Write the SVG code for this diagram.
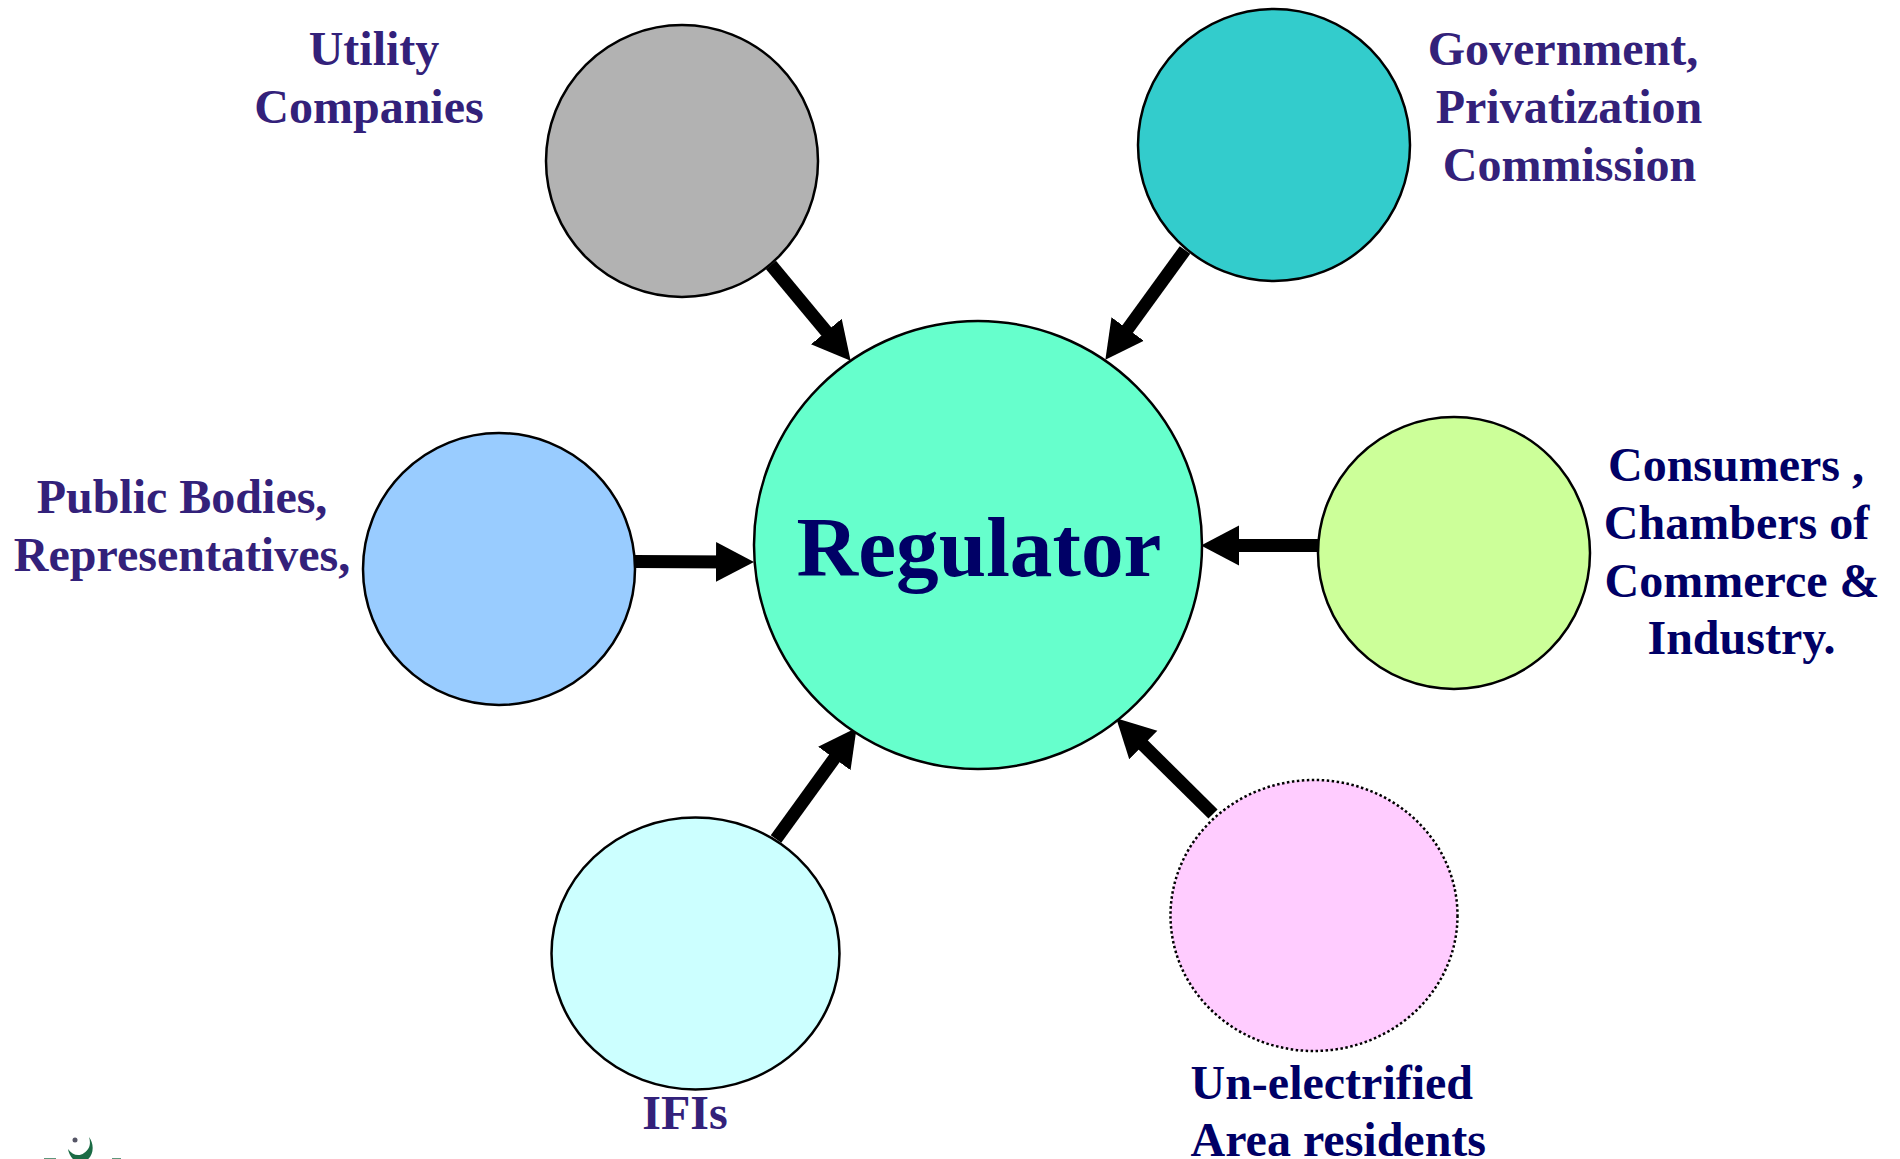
<svg xmlns="http://www.w3.org/2000/svg" width="1900" height="1159" viewBox="0 0 1900 1159">
<style>
.n{stroke:#000;stroke-width:2.500}
.t{font-family:"Liberation Serif","Times New Roman",serif;font-weight:bold;font-size:48px;text-anchor:middle}
.p{fill:#33217a}
.d{fill:#000066}
.a{stroke:#000;stroke-width:13;fill:none;marker-end:url(#ah)}
.g{fill:#1b6b45}
</style>
<defs><marker id="ah" markerUnits="userSpaceOnUse" markerWidth="44" markerHeight="44" refX="17" refY="22" orient="auto"><path d="M0 2L38 22L0 42z" fill="#000"/></marker></defs>
<rect width="1900" height="1159" fill="#fff"/>
<g id="connectors">
<path class="a" d="M771 265L837.200 344.600"/>
<path class="a" d="M1185 250L1117.700 342.800"/>
<path class="a" d="M635 561.500L733 562"/>
<path class="a" d="M1319 545.500L1222 545.500"/>
<path class="a" d="M776 839L844.300 744.700"/>
<path class="a" d="M1213 814L1131.200 733.100"/>
</g>
<g id="regulator"><circle class="n" cx="978" cy="545" r="224" fill="#66ffcc"/><text x="979" y="576" style="font-family:'Liberation Serif',serif;font-weight:bold;font-size:85.300px;text-anchor:middle" fill="#000066">Regulator</text></g>
<g id="utility"><circle class="n" cx="682" cy="161" r="136" fill="#b2b2b2"/><text class="t p"><tspan x="374" y="65">Utility</tspan><tspan x="369" y="123">Companies</tspan></text></g>
<g id="government"><circle class="n" cx="1274" cy="145" r="136" fill="#33cccc"/><text class="t p"><tspan x="1563" y="65">Government,</tspan><tspan x="1569" y="123">Privatization</tspan><tspan x="1569.500" y="181">Commission</tspan></text></g>
<g id="consumers"><circle class="n" cx="1454" cy="553" r="136" fill="#ccff99"/><text class="t d"><tspan x="1736" y="481">Consumers ,</tspan><tspan x="1736.500" y="539">Chambers of</tspan><tspan x="1742" y="596.500">Commerce &amp;</tspan><tspan x="1741.500" y="654">Industry.</tspan></text></g>
<g id="public"><circle class="n" cx="499" cy="569" r="136" fill="#99ccff"/><text class="t p"><tspan x="182" y="513">Public Bodies,</tspan><tspan x="182" y="571">Representatives,</tspan></text></g>
<g id="ifis"><ellipse class="n" cx="695.500" cy="953.500" rx="144" ry="136" fill="#ccffff"/><text class="t p" x="685" y="1129">IFIs</text></g>
<g id="residents"><ellipse cx="1314" cy="915.500" rx="143.500" ry="135.500" fill="#ffccff" stroke="#000" stroke-width="2.500" stroke-dasharray="2.500 2.500"/><text class="t d" style="text-anchor:start"><tspan x="1190.500" y="1099">Un-electrified</tspan><tspan x="1190.500" y="1156">Area residents</tspan></text></g>
<g id="logo"><path class="g" d="M89 1137C96 1146 93 1162 80 1162C73 1162 69 1155 68 1149C72 1155 79 1157 84 1153C90 1149 91 1143 89 1137z"/><circle cx="75" cy="1140" r="2.500" fill="#556"/><rect class="g" x="44" y="1158" width="12" height="1" opacity=".7"/><rect class="g" x="112" y="1158" width="9" height="1" opacity=".7"/></g>
</svg>
